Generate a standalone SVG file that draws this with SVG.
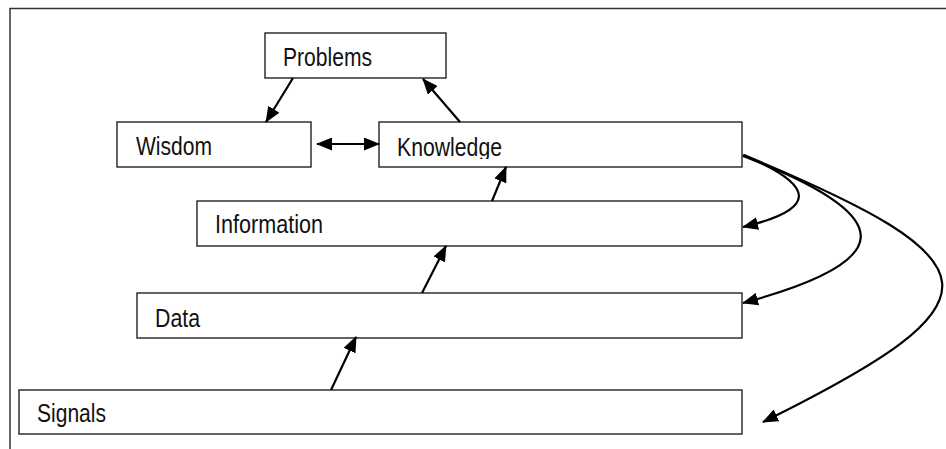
<svg xmlns="http://www.w3.org/2000/svg" width="946" height="449" viewBox="0 0 946 449">
  <style>
    .box { fill: #ffffff; stroke: #222222; stroke-width: 1.4; }
    .label { font-family: "Liberation Sans", Arial, sans-serif; font-size: 25px; fill: #111111; }
    .link { fill: none; stroke: #000000; stroke-width: 2.2; }
    .frame { fill: none; stroke: #333333; stroke-width: 1.5; }
  </style>
  <defs>
    <marker id="head" viewBox="0 0 16 13" refX="15" refY="6.5" markerWidth="16" markerHeight="13" markerUnits="userSpaceOnUse" orient="auto">
      <path d="M0,0 L16,6.5 L0,13 Z" fill="#000000"/>
    </marker>
    <marker id="tail" viewBox="0 0 16 13" refX="1" refY="6.5" markerWidth="16" markerHeight="13" markerUnits="userSpaceOnUse" orient="auto">
      <path d="M16,0 L0,6.5 L16,13 Z" fill="#000000"/>
    </marker>
    <clipPath id="knowClip">
      <rect x="380" y="123" width="362" height="36"/>
    </clipPath>
  </defs>

  <!-- page frame (top and left edges) -->
  <path class="frame" d="M10,449 L10,8.5 L946,8.5"/>

  <g id="problems">
    <rect class="box" x="265" y="33" width="181" height="45"/>
    <text class="label" x="283" y="66" textLength="89" lengthAdjust="spacingAndGlyphs">Problems</text>
  </g>
  <g id="wisdom">
    <rect class="box" x="117" y="122" width="194" height="45"/>
    <text class="label" x="136" y="155" textLength="76" lengthAdjust="spacingAndGlyphs">Wisdom</text>
  </g>
  <g id="knowledge">
    <rect class="box" x="379" y="122" width="363" height="45"/>
    <text class="label" x="397" y="156" textLength="105" lengthAdjust="spacingAndGlyphs" clip-path="url(#knowClip)">Knowledge</text>
  </g>
  <g id="information">
    <rect class="box" x="197" y="201" width="545" height="45"/>
    <text class="label" x="215" y="233" textLength="108" lengthAdjust="spacingAndGlyphs">Information</text>
  </g>
  <g id="data">
    <rect class="box" x="137" y="293" width="605" height="45"/>
    <text class="label" x="155" y="327" textLength="45" lengthAdjust="spacingAndGlyphs">Data</text>
  </g>
  <g id="signals">
    <rect class="box" x="19" y="390" width="723" height="44"/>
    <text class="label" x="37" y="422" textLength="69" lengthAdjust="spacingAndGlyphs">Signals</text>
  </g>

  <g id="connectors">
    <path class="link" d="M293,78 L266,122" marker-end="url(#head)"/>
    <path class="link" d="M460,122 L423,79" marker-end="url(#head)"/>
    <path class="link" d="M317,144 L379,144" marker-start="url(#tail)" marker-end="url(#head)"/>
    <path class="link" d="M492,201 L506,167" marker-end="url(#head)"/>
    <path class="link" d="M422,293 L446,246" marker-end="url(#head)"/>
    <path class="link" d="M331,390 L356,337" marker-end="url(#head)"/>
    <!-- knowledge feeds back down to each lower layer -->
    <path class="link" d="M743,155 C820,187 815,210 743,227" marker-end="url(#head)"/>
    <path class="link" d="M743,156 C905,218 895,262 743,303" marker-end="url(#head)"/>
    <path class="link" d="M744,155 C1000,262 1010,300 763,422" marker-end="url(#head)"/>
  </g>
</svg>
